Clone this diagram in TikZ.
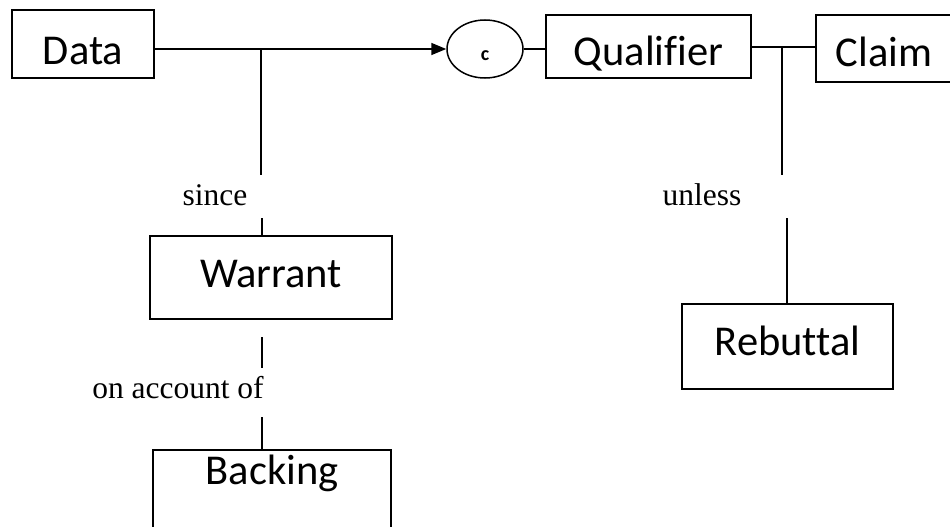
\documentclass[tikz,border=0pt]{standalone}
\usepackage{fontspec}
\usetikzlibrary{arrows.meta,shapes.geometric}
\newfontfamily\boxfont[Ligatures=NoCommon]{Carlito}
\newfontfamily\labelfont{Liberation Serif}

\begin{document}
\begin{tikzpicture}[x=1pt,y=-1pt,
  line width=1.5pt,
  stage/.style={draw, rectangle, inner sep=0pt, text height=40pt,
    font=\boxfont\fontsize{42.5}{50}\selectfont},
  link/.style={draw, line width=1.5pt},
  word/.style={anchor=base, inner sep=0pt,
    font=\labelfont\fontsize{31.5}{38}\selectfont}]
  \useasboundingbox (0,0) rectangle (950,527);

  % top row: data, qualifier oval, qualifier, claim
  \node[stage, minimum width=142pt, minimum height=68pt, text depth=0pt]
    (data) at (83,44) {Data};
  \node[draw, ellipse, minimum width=76pt, minimum height=58pt, inner sep=0pt,
    text height=24pt, text depth=0pt,
    font=\boxfont\bfseries\fontsize{20}{24}\selectfont]
    (oval) at (485,49) {c};
  \node[stage, minimum width=205pt, minimum height=63pt, text depth=2pt]
    (qual) at (648.5,46.5) {Qualifier};
  \node[stage, minimum width=136pt, minimum height=67pt, text depth=4pt]
    (claim) at (884,48.5) {Claim};

  % lower boxes
  \node[stage, minimum width=242pt, minimum height=83pt, text depth=20pt]
    (warrant) at (271,277.5) {Warrant};
  \node[stage, minimum width=238pt, minimum height=85pt,
    text height=30pt, text depth=47pt]
    (backing) at (272,492.5) {Backing};
  \node[stage, minimum width=211pt, minimum height=85pt, text depth=22pt]
    (rebuttal) at (787.5,346.5) {Rebuttal};

  % labels on the broken connectors
  \node[word] (since) at (215,205) {since};
  \node[word] (account) at (178,398) {on account of};
  \node[word] (unless) at (702,205) {unless};

  % junction and break points
  \coordinate (j1) at (261,49);
  \coordinate (s1) at (261,175);
  \coordinate (s2) at (262,218);
  \coordinate (a1) at (262,337);
  \coordinate (a2) at (262,368);
  \coordinate (a3) at (262,417);
  \coordinate (j2) at (782,47);
  \coordinate (u1) at (782,175);
  \coordinate (u2) at (787,218);

  % main line
  \draw[link, -{Triangle[length=15pt,width=12pt]}]
    (data.east |- oval.west) -- (oval.west);
  \draw[link] (oval.east) -- (oval.east -| qual.west);
  \draw[link] (qual.east |- j2) -- (claim.west |- j2);

  % warrant and backing branch
  \draw[link] (j1) -- (s1);
  \draw[link] (s2) -- (s2 |- warrant.north);
  \draw[link] (a1) -- (a2);
  \draw[link] (a3) -- (a3 |- backing.north);

  % rebuttal branch
  \draw[link] (j2) -- (u1);
  \draw[link] (u2) -- (u2 |- rebuttal.north);
\end{tikzpicture}
\end{document}
